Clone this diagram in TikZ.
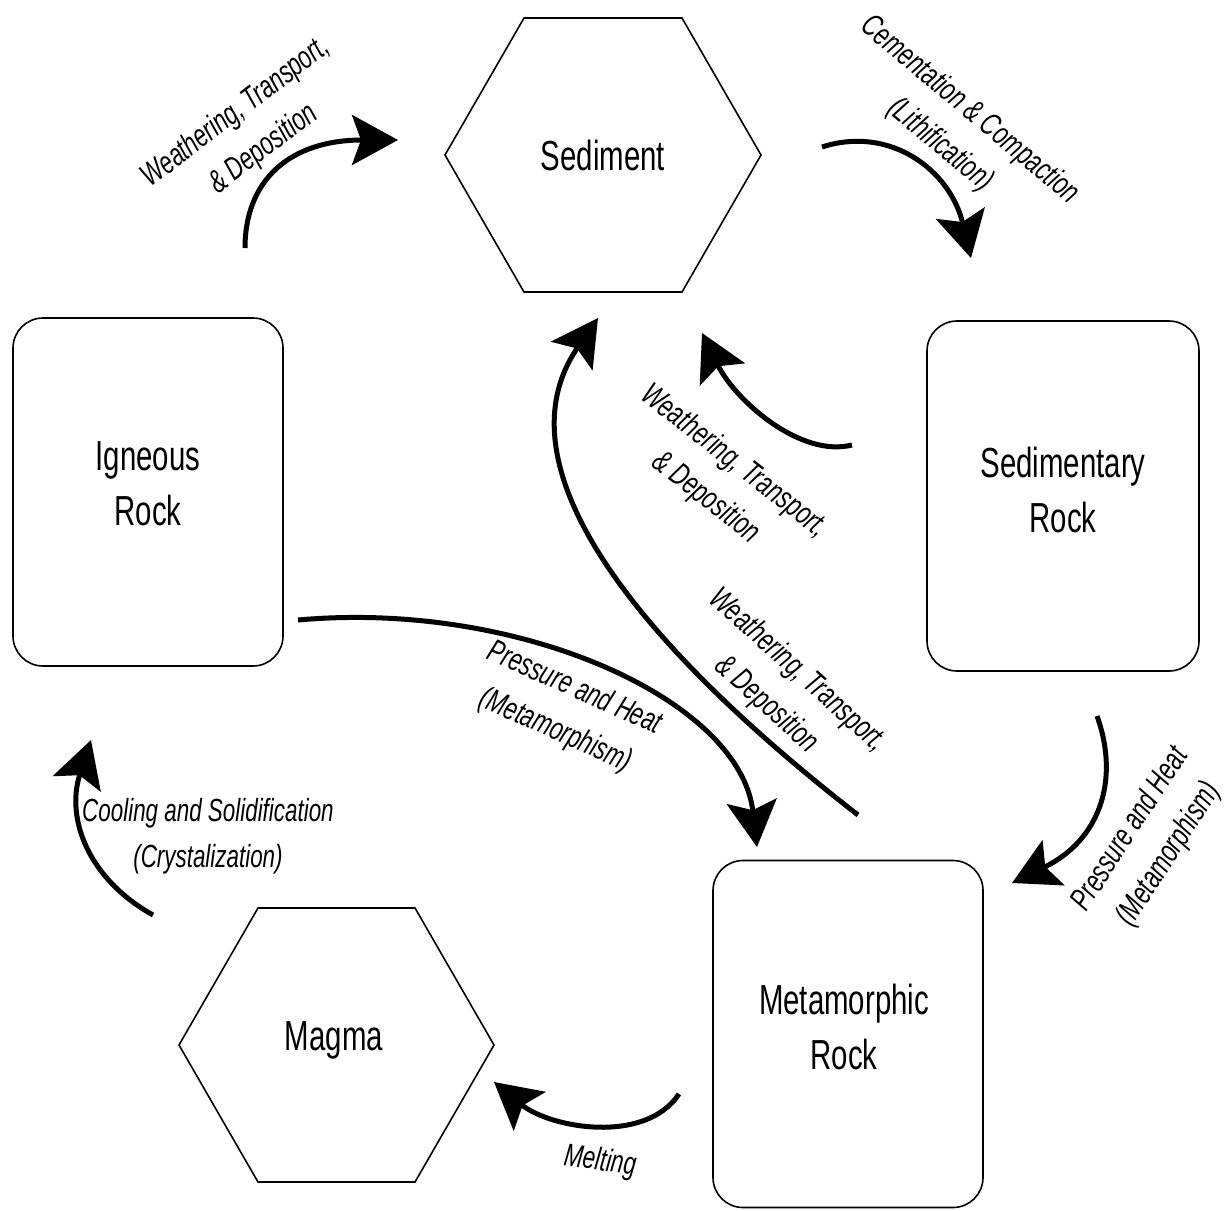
\documentclass[tikz,border=0pt]{standalone}
\usepackage{fontspec}
\setmainfont{Liberation Sans}[FakeStretch=0.7]
\usetikzlibrary{arrows.meta,calc}
\begin{document}
\begin{tikzpicture}[x=1pt,y=-1pt,
  rockbox/.style={draw, line width=1.6pt, rounded corners=30pt, minimum width=270pt, minimum height=348pt},
  rocktext/.style={align=center, font=\fontsize{42}{55}\selectfont, inner sep=0pt},
  hexlabel/.style={font=\fontsize{42}{55}\selectfont, inner sep=0pt},
  hexline/.style={line width=1.6pt, line join=miter},
  flow/.style={line width=5pt, -{Stealth[length=46pt,width=50pt,inset=9pt]}},
  lab/.style={font=\fontsize{32}{46}\selectfont\itshape, align=center, inner sep=0pt}
]
\useasboundingbox (0,0) rectangle (1230,1210);

% boxes
\node[rockbox] (ign) at (148,492) {};
\node[rocktext] (igntext) at (148,484) {Igneous\\Rock};
\node[rockbox, minimum width=272pt, minimum height=350pt] (sedr) at (1063,496) {};
\node[rocktext] (sedrtext) at (1063,490) {Sedimentary\\Rock};
\node[rockbox, minimum height=347pt] (meta) at (848,1034) {};
\node[rocktext] (metatext) at (844,1027) {Metamorphic\\Rock};

% hexagons
\node[hexlabel] (sed) at (603,155) {Sediment};
\draw[hexline] ($(sed.center)+(-158,0)$) -- ++(79,-137) -- ++(158,0) -- ++(79,137) -- ++(-79,137) -- ++(-158,0) -- cycle;
\node[hexlabel] (mag) at (334,1040) {Magma};
\draw[hexline] ($(mag.center)+(-155,5)$) -- ++(79,-137) -- ++(157,0) -- ++(79,137) -- ++(-79,137) -- ++(-157,0) -- cycle;

% arrow end points
\coordinate (a1s) at (245,248);  \coordinate (a1e) at (398,140);
\coordinate (a2s) at (822,147);  \coordinate (a2e) at (971,258);
\coordinate (a3s) at (852,445);  \coordinate (a3e) at (702,333);
\coordinate (a4s) at (858,815);  \coordinate (a4e) at (598,318);
\coordinate (a5s) at (298,620);  \coordinate (a5e) at (757,847);
\coordinate (a6s) at (1097,716); \coordinate (a6e) at (1012,883);
\coordinate (a7s) at (679,1094); \coordinate (a7e) at (494,1082);
\coordinate (a8s) at (153,915);  \coordinate (a8e) at (91,740);

\draw[flow] (a1s) .. controls (245,180) and (290,140) .. (a1e);
\draw[flow] (a2s) .. controls (890,125) and (950,170) .. (a2e);
\draw[flow] (a3s) .. controls (800,458) and (735,400) .. (a3e);
\draw[flow] (a4s) .. controls (620,630) and (500,460) .. (a4e);
\draw[flow] (a5s) .. controls (520,600) and (740,700) .. (a5e);
\draw[flow] (a6s) .. controls (1120,780) and (1100,840) .. (a6e);
\draw[flow] (a7s) .. controls (645,1145) and (550,1128) .. (a7e);
\draw[flow] (a8s) .. controls (90,880) and (65,820) .. (a8e);

% labels
\node[lab, rotate=37] (l1) at (250,131) {Weathering, Transport,\\\& Deposition};
\node[lab, rotate=-40] (l2) at (955,128) {Cementation \& Compaction\\(Lithification)};
\node[lab, rotate=-38] (l3) at (720,480) {Weathering, Transport,\\\& Deposition};
\node[lab, rotate=-42] (l4) at (782,688) {Weathering, Transport,\\\& Deposition};
\node[lab, rotate=-24] (l5) at (565,710) {Pressure and Heat\\(Metamorphism)};
\node[lab, rotate=57] (l6) at (1150,842) {Pressure and Heat\\(Metamorphism)};
\node[lab] (l7) at (208,836) {Cooling and Solidification\\(Crystalization)};
\node[lab, rotate=-8] (l8) at (600,1162) {Melting};
\end{tikzpicture}
\end{document}
